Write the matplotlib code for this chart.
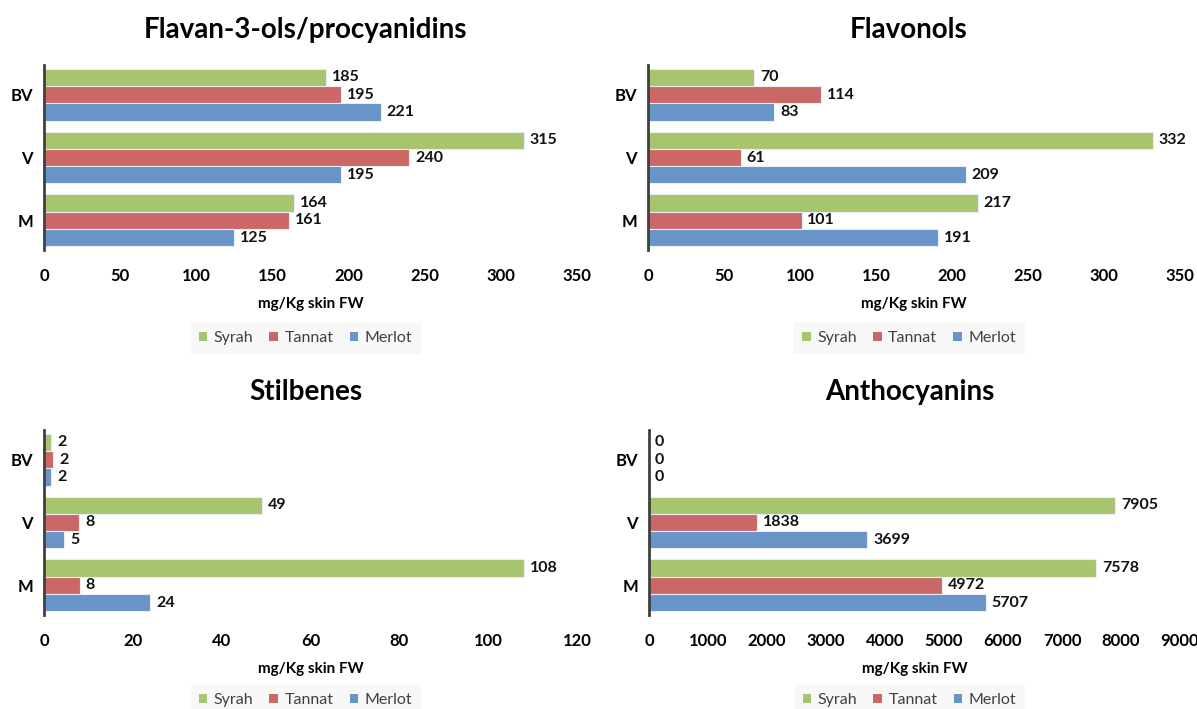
import numpy as np
import matplotlib
matplotlib.use('Agg')
import matplotlib.pyplot as plt
from matplotlib.patches import Patch

plt.rcParams['font.family'] = ['Lato', 'DejaVu Sans']

# DATA
stages = ['M', 'V', 'BV']
varieties = ['Syrah', 'Tannat', 'Merlot']
colors = {'Syrah': '#A7C46F', 'Tannat': '#CB6866', 'Merlot': '#6894C8'}

flavan_syrah = [164, 315, 185]
flavan_tannat = [161, 240, 195]
flavan_merlot = [125, 195, 221]

flavonols_syrah = [217, 332, 70]
flavonols_tannat = [101, 61, 114]
flavonols_merlot = [191, 209, 83]

stilbenes_syrah = [108, 49, 1.6]
stilbenes_tannat = [8.1, 7.9, 2.1]
stilbenes_merlot = [23.9, 4.6, 1.6]

antho_syrah = [7578, 7905, 0]
antho_tannat = [4972, 1838, 0]
antho_merlot = [5707, 3699, 0]

panels = [
    ('Flavan-3-ols/procyanidins', [flavan_syrah, flavan_tannat, flavan_merlot], 350, 50),
    ('Flavonols', [flavonols_syrah, flavonols_tannat, flavonols_merlot], 350, 50),
    ('Stilbenes', [stilbenes_syrah, stilbenes_tannat, stilbenes_merlot], 120, 20),
    ('Anthocyanins', [antho_syrah, antho_tannat, antho_merlot], 9000, 1000),
]

W, H = 1197, 709
fig = plt.figure(figsize=(W / 100, H / 100), dpi=100)

# pixel boxes: left, top, right, bottom
boxes = [(44, 65, 577, 250), (648, 65, 1180, 250),
         (44, 430, 577, 615), (649, 430, 1180, 615)]
title_y = [30, 30, 392, 392]
legend_y = [338, 338, 700, 700]

bar_h = 0.275
y = np.arange(len(stages))

for (title, series, xmax, step), (l, t, r, b), ty, ly in zip(panels, boxes, title_y, legend_y):
    ax = fig.add_axes([l / W, 1 - b / H, (r - l) / W, (b - t) / H])
    offsets = [bar_h, 0, -bar_h]
    for name, vals, off in zip(varieties, series, offsets):
        bars = ax.barh(y + off, vals, height=bar_h, color=colors[name],
                       edgecolor='#E8EEF5', linewidth=0.8)
        for bar, v in zip(bars, vals):
            ax.text(bar.get_width() + xmax * 0.011, bar.get_y() + bar.get_height() / 2,
                    '%d' % round(v), va='center', ha='left', fontsize=11.5,
                    fontweight='bold', color='#111111')
    ax.set_xlim(0, xmax)
    ax.set_ylim(-0.47, 2.47)
    ax.set_xticks(np.arange(0, xmax + 1, step))
    ax.set_yticks(y)
    ax.set_yticklabels(stages, fontsize=12, fontweight='bold')
    for lab in ax.get_xticklabels():
        lab.set_fontweight('bold')
        lab.set_fontsize(12)
    ax.tick_params(axis='x', length=0, pad=13)
    ax.tick_params(axis='y', length=0, pad=8)
    for s in ['top', 'right', 'bottom']:
        ax.spines[s].set_visible(False)
    ax.spines['left'].set_color('#404040')
    ax.spines['left'].set_linewidth(2)
    ax.set_xlabel('mg/Kg skin FW', fontsize=11, fontweight='bold', labelpad=9)

    cx = (l + r) / 2 - 5
    fig.text(cx / W, 1 - ty / H, title, ha='center', va='center',
             fontsize=20, fontweight='bold')
    handles = [Patch(facecolor=colors[n], edgecolor='none') for n in varieties]
    leg = fig.legend(handles, varieties, loc='center', ncol=3,
                     bbox_to_anchor=(cx / W, 1 - ly / H), frameon=True,
                     fontsize=11.5, handlelength=0.55, handleheight=0.55,
                     handletextpad=0.4, columnspacing=1.0, borderpad=0.5,
                     fancybox=False)
    leg.get_frame().set_facecolor('#F7F7F7')
    leg.get_frame().set_edgecolor('#F7F7F7')
    for txt in leg.get_texts():
        txt.set_color('#404040')

fig.savefig('out.png', dpi=100)
